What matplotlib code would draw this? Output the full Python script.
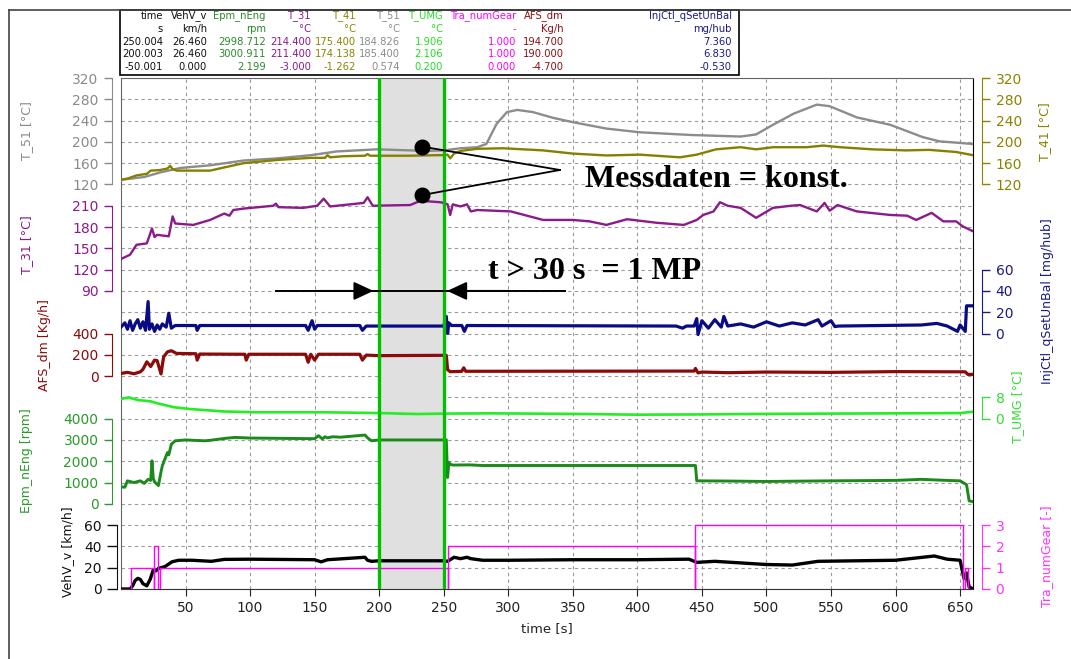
import numpy as np
import matplotlib.pyplot as plt
from matplotlib.lines import Line2D
from matplotlib.patches import Rectangle

# ---------------- data ----------------
t_veh = [0, 7, 9, 11, 13, 15, 17, 20, 22.6, 25, 27, 29, 34, 39.6, 44.7, 55, 70, 80, 100, 150,
         155, 160, 189, 191, 194, 200, 250, 253, 258, 263, 268, 271, 280, 300, 350, 400, 440,
         446, 460, 500, 520, 540, 600, 630, 640, 650, 653, 655, 657, 660]
veh_v = [0, 0, 3, 8, 10, 9, 5, 3, 9, 18, 17, 19.4, 21, 25.6, 27, 27, 26, 27.8, 28, 27.5,
         25.5, 27.5, 29.8, 27, 26, 26.5, 26.5, 26, 29.8, 28.5, 29.8, 28.5, 27, 27, 27.5, 27.5, 28,
         25, 26, 23, 22.5, 26, 27, 31, 28, 27, 10, 15, 2, 0]

t_gear = [0, 7.5, 25.4, 25.5, 29, 30.5, 253.4, 253.5, 444.5, 444.6, 652, 653.5, 656, 660]
gear = [0, 1, 0, 2, 0, 1, 0, 2, 0, 3, 0, 1, 0, 0]

t_neng = [0, 3, 5, 10, 15, 18, 21, 23, 24, 25, 26, 29, 31, 32, 34, 36, 37, 39, 42, 50, 65, 70,
          80, 88, 100, 150, 153, 156, 158, 160, 164, 170, 189, 191, 194, 200, 250, 252, 253,
          254, 255, 257, 270, 280, 444, 445, 446, 470, 500, 550, 600, 620, 640, 650, 655, 657, 660]
neng = [800, 780, 1080, 1000, 1080, 960, 1150, 1100, 2020, 1200, 1030, 860, 1500, 1785, 2100,
        2410, 2300, 2800, 2960, 3000, 2960, 2990, 3070, 3120, 3090, 3060, 3200, 3050, 3150, 3100,
        3150, 3130, 3230, 3100, 2960, 3000, 3000, 3010, 1240, 1940, 1860, 1820, 1830, 1800, 1800,
        1800, 1080, 1070, 1050, 1080, 1100, 1150, 1100, 1080, 900, 140, 100]

t_umg = [0, 6, 13, 23, 28, 41, 54, 80, 105, 157, 201, 229, 250, 286, 350, 400, 450, 500, 550,
         600, 650, 660]
umg = [7.4, 8.0, 7.0, 6.5, 5.8, 4.3, 3.6, 2.7, 2.4, 2.4, 2.1, 1.75, 1.9, 2.0, 1.8, 1.5, 1.6,
       1.8, 1.9, 2.0, 2.1, 2.6]

t_afs = [0, 5, 10, 15, 17, 20, 23, 26, 28, 31, 33, 36, 39, 43, 58, 59, 61, 96, 97, 99, 143, 145,
         147, 150, 153, 155, 185, 187, 190, 200, 250, 252, 253, 255, 264, 265.5, 267, 444, 445,
         447, 450, 470, 500, 550, 600, 654, 656, 660]
afs = [25, 35, 22, 40, 63, 134, 90, 150, 145, 20, 180, 228, 238, 213, 210, 150, 207, 205, 150,
       205, 205, 130, 205, 150, 205, 205, 205, 150, 197, 192, 195, 195, 60, 41, 45, 78, 45, 47,
       72, 30, 38, 32, 38, 35, 42, 40, 16, 16]

t_inj = [0, 3, 5, 7, 9, 11, 13, 15, 17, 19, 21, 22, 24, 26, 28, 30, 32, 35, 37, 39, 42, 58, 59,
         61, 143, 145, 148, 150, 152, 185, 187, 190, 250, 252, 253, 254, 256, 264, 266, 268, 430,
         435, 438, 444, 446, 447, 450, 455, 460, 465, 467, 470, 480, 490, 500, 510, 520, 530, 540,
         543, 550, 553, 556, 620, 632, 640, 648, 650, 654, 655, 660]
inj = [6, 10, 4, 12, 3, 9, 13, 5, 11, 3, 30, 4, 9, 2, 8, 4, 9, 6, 19, 5, 7.5, 7.5, 3, 7.5, 7.5,
       3, 12, 4, 7.5, 7.5, 3, 7, 7, 16, 0, 10, 7.5, 7.5, 2, 7.5, 7, 5, 7, 7, 14, -1, 12, 5, 13, 6,
       16, 7, 9, 6, 11, 7, 10, 8, 13, 7, 12, 6.5, 7, 8, 9.5, 7, 2, 8, 2, 26, 26]

t_t31 = [0, 7, 12, 20, 24, 26, 28, 37, 40, 42, 56, 69, 80, 84, 87, 95, 118, 120, 122, 141, 152,
         157, 162, 188, 191, 195, 224, 232, 247, 250, 253, 255, 257, 263, 268, 271, 276, 302, 327,
         350, 363, 376, 392, 415, 436, 446, 451, 459, 464, 470, 480, 492, 505, 519, 526, 539, 545,
         549, 555, 570, 596, 609, 616, 628, 637, 647, 652, 660]
t31 = [135, 141, 155, 157, 178, 166, 169, 167, 195, 185, 183, 190, 199, 196, 204, 206, 210, 213,
       208, 207, 210, 220, 209, 214, 222, 210, 211, 217, 215, 214, 212, 197, 212, 209, 212, 202,
       204, 202, 190, 190, 188, 183, 191, 186, 183, 190, 197, 202, 215, 210, 207, 193, 207, 210,
       211, 202, 214, 203, 211, 202, 197, 196, 190, 200, 188, 188, 181, 174]

t_t41 = [0, 5, 12, 20, 23, 30, 36, 38, 40, 43, 55, 69, 80, 95, 121, 147, 158, 160, 162, 172, 189,
         191, 193, 200, 224, 245, 250, 253, 255, 258, 263, 276, 296, 327, 350, 376, 402, 433, 446,
         461, 480, 492, 505, 531, 544, 557, 582, 608, 626, 647, 660]
t41 = [129, 131, 137, 140, 146, 147, 150, 155, 149, 146, 146, 146, 152, 160, 166, 170, 170, 175,
       171, 173, 174, 177, 174, 174, 174, 175, 175, 176, 169, 178, 183, 187, 188, 184, 178, 174.5,
       176, 171, 176, 186, 190, 186, 190, 190, 193, 190, 186, 184, 185, 181, 175]

t_t51 = [0, 1, 18, 31, 46, 69, 95, 121, 147, 167, 198, 224, 237, 250, 263, 276, 283, 291, 299,
         307, 319, 335, 350, 376, 402, 441, 480, 492, 505, 521, 539, 549, 570, 596, 621, 634, 650,
         660]
t51 = [128, 129, 134, 143, 151, 156, 165, 169, 175, 182, 186, 184, 183, 184, 188, 190, 196, 234,
       256, 260, 256, 245, 237, 225, 218, 213, 210, 214, 232, 253, 270, 267, 246, 232, 209, 201,
       198, 196]

# cursor table (two cursors and their difference)
tab_names = ['time', 'VehV_v', 'Epm_nEng', 'T_31', 'T_41', 'T_51', 'T_UMG', 'Tra_numGear',
             'AFS_dm', 'InjCtl_qSetUnBal']
tab_units = ['s', 'km/h', 'rpm', '°C', '°C', '°C', '°C', '-', 'Kg/h', 'mg/hub']
tab_c1 = ['250.004', '26.460', '2998.712', '214.400', '175.400', '184.826', '1.906', '1.000',
          '194.700', '7.360']
tab_c2 = ['200.003', '26.460', '3000.911', '211.400', '174.138', '185.400', '2.106', '1.000',
          '190.000', '6.830']
tab_diff = ['-50.001', '0.000', '2.199', '-3.000', '-1.262', '0.574', '0.200', '0.000', '-4.700',
            '-0.530']

# ---------------- figure ----------------
W, H = 1071, 659
fig = plt.figure(figsize=(W / 100, H / 100), dpi=100)
plt.rcParams['font.family'] = 'DejaVu Sans'


def fx(x):
    return x / W


def fy(y):
    return 1 - y / H


L, R, T, B = 121, 973, 78, 589
ax = fig.add_axes([fx(L), fy(B), fx(R) - fx(L), fy(T) - fy(B)])
ax.set_xlim(0, 660)
ax.set_ylim(0, 24)
ax.set_xticks(np.arange(50, 651, 50))
ax.set_yticks(np.arange(0, 25))
ax.tick_params(axis='y', length=0, labelleft=False, labelright=False)
ax.tick_params(axis='x', direction='out', length=5, labelsize=10, pad=4, colors='#222222')
ax.grid(True, color='#9a9a9a', ls=(0, (3, 3)), lw=0.8)
ax.set_axisbelow(True)
ax.set_xlabel('time [s]', fontsize=9.5, labelpad=5, color='#222222')
for s in ['left', 'top']:
    ax.spines[s].set_color('#666666')
ax.spines['right'].set_color('black')
ax.spines['bottom'].set_color('#333333')
ax.axvspan(200, 250, color='#e0e0e0', zorder=1)


def lab_pos(px, py):
    return (px - L) / (R - L), (B - py) / (B - T)


def channel(t, v, color, lw, side, ylim, ticks, label, lab_px, out=9, tick_len=8, pad=4,
            step=False, tcolor=None):
    tw = ax.twinx()
    tw.set_ylim(*ylim)
    tw.plot(t, v, color=color, lw=lw, solid_joinstyle='round',
            drawstyle='steps-post' if step else 'default')
    for s in tw.spines.values():
        s.set_visible(False)
    sp = tw.spines[side]
    sp.set_visible(True)
    sp.set_position(('outward', out * 0.72))
    sp.set_bounds(ticks[0], ticks[-1])
    tc = tcolor or color
    sp.set_color(tc)
    if side == 'left':
        tw.yaxis.tick_left()
    else:
        tw.yaxis.tick_right()
    tw.yaxis.set_label_position(side)
    tw.set_yticks(ticks)
    tw.tick_params(axis='y', colors=tc, length=tick_len * 0.72, width=1, labelsize=10, pad=pad)
    tw.set_ylabel(label, color=tc, fontsize=9)
    tw.yaxis.set_label_coords(*lab_pos(*lab_px))
    tw.yaxis.label.set_va('center')
    return tw


# left side
channel(t_t51, t51, '#8c8c8c', 1.7, 'left', (-640, 320), [120, 160, 200, 240, 280, 320],
        'T_51 [°C]', (27, 131), tcolor='#8a8a8a')
channel(t_t31, t31, '#8b1a8b', 1.7, 'left', (-330, 390), [90, 120, 150, 180, 210],
        'T_31 [°C]', (27, 245))
channel(t_afs, afs, '#8b0a0a', 2.3, 'left', (-2000, 2800), [0, 200, 400],
        'AFS_dm [Kg/h]', (45, 345))
channel(t_neng, neng, '#1a8a1a', 2.1, 'left', (-4000, 20000), [0, 1000, 2000, 3000, 4000],
        'Epm_nEng [rpm]', (27, 461), tcolor='#2a9a2a')
channel(t_veh, veh_v, 'black', 2.4, 'left', (0, 480), [0, 20, 40, 60],
        'VehV_v [km/h]', (68, 552), out=4, tick_len=10, pad=4, tcolor='#111111')
# right side
channel(t_t41, t41, '#858000', 1.7, 'right', (-640, 320), [120, 160, 200, 240, 280, 320],
        'T_41 [°C]', (1045, 132), tcolor='#8a8400')
channel(t_inj, inj, '#0a0a85', 2.3, 'right', (-240, 240), [0, 20, 40, 60],
        'InjCtl_qSetUnBal [mg/hub]', (1047, 301), tcolor='#1a1a8a')
channel(t_umg, umg, '#22ee22', 1.9, 'right', (-64, 128), [0, 8],
        'T_UMG [°C]', (1018, 407), tcolor='#33dd33')
channel(t_gear, gear, '#ff00ff', 1.0, 'right', (0, 24), [0, 1, 2, 3],
        'Tra_numGear [-]', (1047, 556), step=True, tcolor='#ff33ff')

# ---------------- annotations ----------------
ov = ax.twinx()
ov.set_ylim(0, 24)
ov.axis('off')
ov.axvline(200, color='#00c000', lw=2.4)
ov.axvline(250, color='#00c000', lw=2.4)

ov.plot([233, 340], [20.78, 19.68], color='black', lw=1.3)
ov.plot([233, 340], [18.5, 19.68], color='black', lw=1.3)
ov.plot([233, 233], [20.78, 18.5], 'o', color='black', ms=10.5)
ov.text(359.6, 19.25, 'Messdaten = konst.', fontsize=23, fontweight='bold',
        family='Liberation Serif', ha='left', va='center')

ov.plot([120.4, 344], [14, 14], color='black', lw=1.4)
arrow = dict(arrowstyle='-|>,head_length=0.6,head_width=0.28', mutation_scale=20,
             color='black', lw=1.4, shrinkA=0, shrinkB=0)
ov.annotate('', xy=(195.5, 14), xytext=(150, 14), arrowprops=arrow)
ov.annotate('', xy=(252.7, 14), xytext=(300, 14), arrowprops=arrow)
ov.text(284.5, 14.9, 't > 30 s  = 1 MP', fontsize=23, fontweight='bold',
        family='Liberation Serif', ha='left', va='center')

# ---------------- cursor table ----------------
col_x = [163, 207, 266, 311, 356, 400, 443, 516, 564, 732]
row_y = [16, 29, 42, 54, 67]
col_c = ['#111111', '#111111', '#2a8a2a', '#8b1a8b', '#8a8400', '#8c8c8c', '#22dd22', '#ff00ff',
         '#8b1010', '#1a1a8a']
for j in range(len(tab_names)):
    for i, row in enumerate([tab_names, tab_units, tab_c1, tab_c2, tab_diff]):
        fig.text(fx(col_x[j]), fy(row_y[i]), row[j], fontsize=7.2, color=col_c[j],
                 ha='right', va='center')
fig.add_artist(Rectangle((fx(120), fy(75)), fx(739) - fx(120), fy(10) - fy(75),
                         transform=fig.transFigure, fill=False, lw=1.2, color='black'))

# outer frame lines of the screenshot
fig.add_artist(Line2D([fx(9), fx(W)], [fy(10), fy(10)], transform=fig.transFigure,
                      color='#444444', lw=1.2))
fig.add_artist(Line2D([fx(9), fx(9)], [fy(10), fy(H)], transform=fig.transFigure,
                      color='#444444', lw=1.2))

fig.savefig('out.png', dpi=100)
